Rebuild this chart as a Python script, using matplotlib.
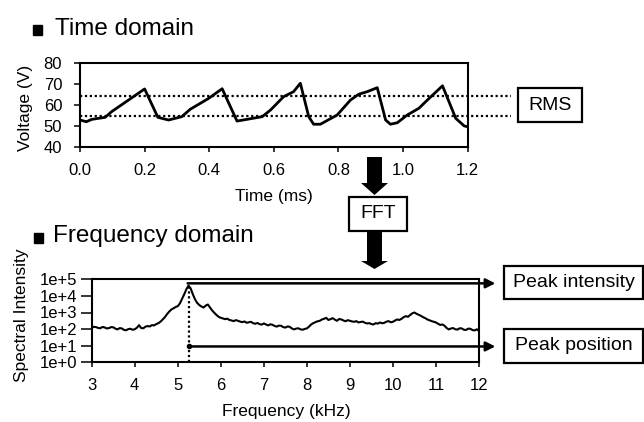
import matplotlib
matplotlib.use("Agg")
import matplotlib.pyplot as plt
from matplotlib.patches import Rectangle, FancyArrow
from matplotlib.transforms import Affine2D
import numpy as np

plt.rcParams['font.family'] = ['Liberation Sans', 'DejaVu Sans']

# ---- data ----
time_ms = [0.0, 0.02, 0.036, 0.078, 0.098, 0.15, 0.2, 0.241, 0.274, 0.315, 0.341, 0.398,
           0.44, 0.486, 0.564, 0.59, 0.63, 0.661, 0.682, 0.708, 0.723, 0.744, 0.796, 0.837,
           0.863, 0.889, 0.92, 0.946, 0.961, 0.982, 1.013, 1.049, 1.075, 1.122, 1.163, 1.189, 1.2]
voltage = [52.7, 51.9, 53.0, 54.0, 56.7, 62.2, 67.5, 54.0, 52.7, 54.3, 57.8, 63.0,
           67.6, 52.2, 54.3, 57.5, 63.8, 66.2, 70.2, 54.3, 50.7, 50.7, 55.1, 62.2,
           65.0, 66.2, 68.1, 52.7, 50.7, 51.4, 55.1, 58.3, 62.2, 69.0, 53.5, 49.9, 49.5]
rms_levels = [64.3, 54.6]

# spectrum sampled every 0.05 kHz from 3 to 12 kHz (log10 of intensity)
log10_intensity = [
    2.08, 2.14, 2.12, 2.07, 2.05, 2.13, 2.10, 2.04, 2.06, 2.12, 2.11, 2.03, 1.98, 2.06, 2.04, 1.95, 1.93, 2.00, 2.02, 1.96,
    1.99, 2.08, 2.24, 2.06, 2.05, 2.15, 2.18, 2.16, 2.24, 2.22, 2.30, 2.36, 2.45, 2.58, 2.72, 2.90, 3.05, 3.18, 3.25, 3.33,
    3.38, 3.55, 3.82, 4.10, 4.40, 4.62, 4.45, 4.10, 3.80, 3.58, 3.45, 3.36, 3.30, 3.42, 3.48, 3.30, 3.12, 2.98, 2.85, 2.74,
    2.68, 2.64, 2.60, 2.63, 2.55, 2.52, 2.48, 2.54, 2.50, 2.45, 2.42, 2.46, 2.38, 2.41, 2.44, 2.36, 2.32, 2.37, 2.30, 2.27,
    2.34, 2.28, 2.22, 2.29, 2.26, 2.19, 2.15, 2.21, 2.20, 2.12, 2.09, 2.16, 2.14, 2.04, 1.98, 2.03, 2.05, 1.99, 1.96, 2.01,
    2.04, 2.15, 2.28, 2.36, 2.42, 2.47, 2.50, 2.58, 2.62, 2.68, 2.55, 2.60, 2.66, 2.57, 2.50, 2.61, 2.58, 2.52, 2.47, 2.54,
    2.50, 2.46, 2.44, 2.48, 2.40, 2.43, 2.45, 2.38, 2.34, 2.36, 2.30, 2.28, 2.36, 2.33, 2.40, 2.35, 2.38, 2.45, 2.48, 2.41,
    2.44, 2.52, 2.58, 2.55, 2.62, 2.72, 2.78, 2.74, 2.85, 2.95, 3.00, 2.92, 2.86, 2.80, 2.72, 2.66, 2.58, 2.53, 2.48, 2.44,
    2.40, 2.32, 2.25, 2.28, 2.20, 2.06, 1.98, 2.04, 2.06, 1.99, 1.97, 2.05, 2.04, 1.96, 1.95, 2.03, 2.02, 1.94, 1.92, 1.99,
    1.88]
freq_khz = np.linspace(3.0, 12.0, len(log10_intensity))
intensity = [10 ** v for v in log10_intensity]

peak_freq = 5.27
peak_level = 5.7e4
position_level = 9.0

volt_ticks = [40, 50, 60, 70, 80]
time_ticks = [0.0, 0.2, 0.4, 0.6, 0.8, 1.0, 1.2]
freq_ticks = [3, 4, 5, 6, 7, 8, 9, 10, 11, 12]
int_ticks = [1e0, 1e1, 1e2, 1e3, 1e4, 1e5]
int_tick_labels = ['1e+0', '1e+1', '1e+2', '1e+3', '1e+4', '1e+5']

W, H = 644, 422
fig = plt.figure(figsize=(W / 100, H / 100), dpi=100)
px = Affine2D().scale(1 / W, -1 / H).translate(0, 1) + fig.transFigure

def style(ax):
    for s in ax.spines.values():
        s.set_linewidth(1.5)
    ax.tick_params(direction='out', width=1.1, labelsize=12)

# ---- top axes ----
ax1 = fig.add_axes([80 / W, 1 - 146.7 / H, 387.7 / W, 84 / H])
ax1.plot(time_ms, voltage, color='black', lw=2)
ax1.set_xlim(0, 1.2)
ax1.set_ylim(40, 80)
ax1.set_xticks(time_ticks)
ax1.set_xticklabels([f'{t:.1f}' for t in time_ticks])
ax1.set_yticks(volt_ticks)
style(ax1)
ax1.tick_params(axis='x', length=3.6, pad=8.4)
ax1.tick_params(axis='y', length=4.3, pad=8.5)
ax1.set_xlabel('Time (ms)', fontsize=12.5)
ax1.set_ylabel('Voltage (V)', fontsize=12.5)
ax1.xaxis.set_label_coords(0.5, -0.50)
ax1.yaxis.set_label_coords(-0.121, 0.467)
for lv in rms_levels:
    ax1.plot([0, 1.333], [lv, lv], color='black', lw=1.6, ls=(0, (1, 1.2)), clip_on=False)

# ---- bottom axes ----
ax2 = fig.add_axes([91.7 / W, 1 - 362.3 / H, 387.3 / W, 83 / H])
ax2.plot(freq_khz, intensity, color='black', lw=1.5)
ax2.set_yscale('log')
ax2.set_xlim(3, 12)
ax2.set_ylim(1, 1e5)
ax2.set_xticks(freq_ticks)
ax2.set_yticks(int_ticks)
ax2.set_yticklabels(int_tick_labels)
ax2.minorticks_off()
style(ax2)
ax2.tick_params(axis='x', length=3.6, pad=8.0)
ax2.tick_params(axis='y', length=8.0, pad=2.6)
ax2.set_xlabel('Frequency (kHz)', fontsize=12.5)
ax2.set_ylabel('Spectral Intensity', fontsize=12.5)
ax2.xaxis.set_label_coords(0.502, -0.499)
ax2.yaxis.set_label_coords(-0.162, 0.57)

ax2.plot([peak_freq, peak_freq], [1, 10 ** max(log10_intensity)], color='black', lw=1.6,
         ls=(0, (1, 1.2)), clip_on=False)
ax2.annotate('', xy=(12.38, peak_level), xytext=(peak_freq - 0.04, peak_level),
             arrowprops=dict(arrowstyle='-|>', lw=1.8, color='black', mutation_scale=14,
                             shrinkA=0, shrinkB=0), annotation_clip=False)
ax2.annotate('', xy=(12.38, position_level), xytext=(peak_freq, position_level),
             arrowprops=dict(arrowstyle='-|>', lw=1.8, color='black', mutation_scale=14,
                             shrinkA=0, shrinkB=0), annotation_clip=False)
ax2.plot([peak_freq], [position_level], 'o', color='black', ms=3, clip_on=False)

# ---- titles ----
for (sx, sy, tx, ty, label) in [(33, 25, 55, 35, 'Time domain'), (34, 233, 53, 242, 'Frequency domain')]:
    fig.add_artist(Rectangle((sx, sy), 9.5, 9.5, transform=px, color='black'))
    fig.text(tx, ty, label, transform=px, fontsize=17.5, ha='left', va='baseline')

# ---- boxes ----
def box(x0, y0, x1, y1, label, fs=14):
    fig.add_artist(Rectangle((x0, y0), x1 - x0, y1 - y0, transform=px, fill=False,
                             ec='black', lw=1.6))
    fig.text((x0 + x1) / 2, (y0 + y1) / 2, label, transform=px, ha='center', va='center',
             fontsize=fs)

box(518, 88, 582, 122, 'RMS')
box(349, 197, 407, 231, 'FFT')
box(504, 266, 643, 299, 'Peak intensity')
box(504, 329, 643, 363, 'Peak position')

# ---- big arrows ----
fig.add_artist(FancyArrow(374.5, 157, 0, 38, width=15, head_width=27, head_length=12,
                          length_includes_head=True, transform=px, color='black', lw=0))
fig.add_artist(FancyArrow(374.5, 231, 0, 38, width=15, head_width=27, head_length=8,
                          length_includes_head=True, transform=px, color='black', lw=0))

fig.savefig('out.png', dpi=100)
